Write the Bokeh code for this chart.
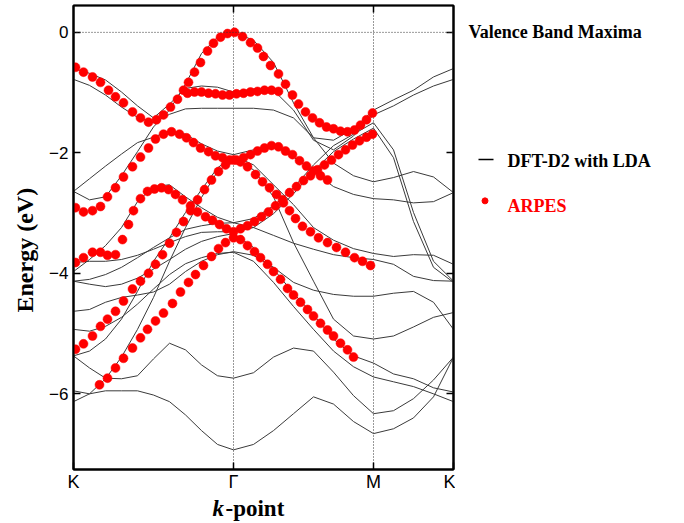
from bokeh.plotting import figure
from bokeh.layouts import column, row
from bokeh.models import Range1d, FixedTicker, LinearAxis, Span, Label, Title
from bokeh.embed import file_html
from bokeh.resources import INLINE

# k-path coordinate (arbitrary units): K = 0, Gamma = 160, M = 300, K = 380
K_PATH_TICKS = [0, 160, 300, 380]
K_PATH_LABELS = ["K", "Γ", "M", "K"]
ENERGY_TICKS = [0, -2, -4, -6]

# sampling of the DFT bands along K-Γ-M-K
K_GRID = [0, 16, 32, 48, 64, 80, 96, 112, 128, 144, 160,
          180, 200, 220, 240, 260, 280, 300,
          320, 340, 360, 380]

# DFT-D2 (LDA) band energies in eV on K_GRID
BAND_01 = [-2.64, -2.78, -2.73, -2.38, -1.98, -1.57, -1.29, -0.86, -0.35, -0.08, 0.00,
           -0.13, -0.50, -1.17, -1.75, -1.79, -1.60, -1.29, -1.12, -0.96, -0.74, -0.60]
BAND_02 = [-0.60, -0.68, -0.79, -0.99, -1.22, -1.42, -1.19, -0.93, -0.89, -0.91, -0.99,
           -0.94, -0.96, -1.29, -1.79, -1.95, -1.72, -1.37, -1.22, -1.04, -0.89, -0.78]
BAND_03 = [-0.78, -0.88, -1.04, -1.24, -1.41, -1.50, -1.36, -1.27, -1.26, -1.26, -1.26,
           -1.26, -1.29, -1.42, -1.75, -2.17, -2.38, -2.48, -2.41, -2.31, -2.40, -2.66]
BAND_04 = [-2.64, -2.43, -2.22, -2.02, -1.83, -1.74, -1.64, -1.69, -1.85, -1.97, -2.03,
           -1.95, -1.87, -2.07, -2.31, -2.56, -2.69, -2.76, -2.78, -2.83, -2.81, -2.66]
BAND_05 = [-3.97, -3.77, -3.54, -3.24, -2.81, -2.56, -2.53, -2.73, -2.91, -3.07, -3.16,
           -3.09, -2.88, -2.58, -2.20, -1.88, -1.69, -1.50, -1.95, -2.99, -3.80, -4.13]
BAND_06 = [-3.82, -3.80, -3.80, -3.77, -3.70, -3.60, -3.49, -3.39, -3.32, -3.31, -3.31,
           -3.24, -3.01, -2.68, -2.30, -1.98, -1.77, -1.59, -2.08, -3.14, -3.90, -4.15]
BAND_07 = [-5.37, -5.29, -5.09, -4.76, -4.30, -3.80, -3.41, -2.99, -2.61, -2.25, -2.05,
           -2.20, -2.53, -2.86, -3.24, -3.45, -3.59, -3.67, -3.72, -3.69, -3.70, -3.85]
BAND_08 = [-6.13, -6.00, -5.75, -5.39, -4.93, -4.40, -3.80, -3.24, -2.74, -2.31, -2.12,
           -2.28, -2.73, -3.49, -4.13, -4.76, -5.04, -5.09, -5.04, -4.89, -4.73, -4.65]
BAND_09 = [-4.13, -4.18, -4.22, -4.18, -4.08, -3.93, -3.77, -3.60, -3.47, -3.39, -3.34,
           -3.57, -3.93, -4.33, -4.69, -5.09, -5.37, -5.49, -5.67, -5.75, -5.90, -5.97]
BAND_10 = [-5.37, -5.57, -5.74, -5.75, -5.70, -5.42, -5.16, -5.27, -5.52, -5.70, -5.74,
           -5.65, -5.39, -5.24, -5.29, -5.64, -6.03, -6.33, -6.28, -6.08, -5.77, -5.39]
BAND_11 = [-5.95, -6.00, -5.95, -5.95, -5.95, -6.02, -6.13, -6.35, -6.61, -6.84, -6.93,
           -6.84, -6.61, -6.33, -6.05, -6.17, -6.46, -6.66, -6.58, -6.40, -6.05, -5.39]
BAND_12 = [-4.63, -4.60, -4.48, -4.40, -4.36, -4.31, -4.18, -3.97, -3.80, -3.69, -3.64,
           -3.70, -3.90, -4.15, -4.28, -4.35, -4.38, -4.38, -4.33, -4.30, -4.48, -4.93]
BAND_13 = [-4.93, -4.96, -4.88, -4.73, -4.51, -4.26, -4.02, -3.84, -3.74, -3.67, -3.65,
           -3.80, -4.15, -4.55, -4.93, -5.29, -5.55, -5.72, -5.80, -5.88, -6.00, -6.13]
BAND_14 = [-4.13, -4.10, -4.02, -3.90, -3.74, -3.57, -3.41, -3.27, -3.21, -3.17, -3.16,
           -3.24, -3.37, -3.50, -3.60, -3.69, -3.74, -3.77, -3.85, -4.05, -4.12, -4.13]

DFT_BANDS = [BAND_01, BAND_02, BAND_03, BAND_04, BAND_05, BAND_06, BAND_07,
             BAND_08, BAND_09, BAND_10, BAND_11, BAND_12, BAND_13, BAND_14]

# ARPES band dispersions (k-path coordinate, energy in eV)
ARPES_1_K = [2, 10, 19, 27, 35, 42, 50, 59, 67, 75, 83, 90, 97, 104, 110, 115, 121, 127, 134, 140,
             147, 154, 161, 169, 177, 184, 190, 197, 205, 212, 219, 225, 232, 239, 246, 253, 260,
             267, 274, 281, 287, 293, 299]
ARPES_1_E = [-0.58, -0.66, -0.74, -0.83, -0.96, -1.07, -1.17, -1.32, -1.42, -1.49, -1.45, -1.37,
             -1.24, -1.11, -0.96, -0.83, -0.66, -0.50, -0.31, -0.18, -0.08, -0.02, 0.00, -0.07,
             -0.17, -0.26, -0.40, -0.55, -0.69, -0.86, -1.04, -1.19, -1.32, -1.42, -1.50, -1.57,
             -1.60, -1.64, -1.65, -1.62, -1.54, -1.45, -1.34]

ARPES_2_K = [114, 121, 128, 135, 142, 149, 156, 163, 170, 177, 184, 191, 198, 205]
ARPES_2_E = [-1.01, -0.99, -0.99, -1.01, -1.02, -1.04, -1.04, -1.02, -1.01, -0.99, -0.98,
             -0.96, -0.96, -0.98]

ARPES_3_K = [2, 10, 19, 27, 34, 42, 50, 59, 67, 75, 82, 90, 98, 106, 113, 120, 127, 135, 142,
             149, 156, 163, 170, 177, 184, 191, 198, 205, 212, 219, 226, 233, 240, 247, 254]
ARPES_3_E = [-2.91, -2.98, -2.96, -2.89, -2.73, -2.58, -2.40, -2.23, -2.07, -1.92, -1.77, -1.69,
             -1.65, -1.69, -1.75, -1.83, -1.92, -1.98, -2.05, -2.08, -2.12, -2.12, -2.08, -2.03,
             -1.97, -1.92, -1.88, -1.90, -1.97, -2.03, -2.13, -2.22, -2.30, -2.38, -2.45]

ARPES_4_K = [2, 10, 19, 27, 34, 42, 49, 55, 60, 67, 74, 81, 88, 95, 102, 109, 117, 124, 132,
             139, 146, 153, 160, 167, 174, 181, 188, 195, 202, 209, 216, 223, 230, 237, 244,
             251, 258, 265, 272, 279, 286, 293, 299]
ARPES_4_E = [-3.82, -3.74, -3.65, -3.65, -3.70, -3.69, -3.44, -3.19, -2.96, -2.76, -2.64, -2.60,
             -2.58, -2.61, -2.69, -2.78, -2.88, -2.98, -3.06, -3.12, -3.19, -3.26, -3.31, -3.26,
             -3.21, -3.14, -3.06, -2.98, -2.88, -2.78, -2.66, -2.56, -2.46, -2.38, -2.28, -2.20,
             -2.12, -2.03, -1.95, -1.87, -1.80, -1.74, -1.69]

ARPES_5_K = [2, 10, 19, 27, 34, 42, 50, 59, 67, 75, 82, 89, 96, 103, 110, 117, 124, 131, 138,
             145, 152, 160, 167, 174, 182, 189, 196, 203, 210, 216, 222, 229, 237, 245, 254,
             263, 272, 281, 289, 297]
ARPES_5_E = [-5.26, -5.17, -5.04, -4.88, -4.76, -4.63, -4.46, -4.26, -4.13, -4.00, -3.85, -3.69,
             -3.50, -3.32, -3.14, -2.96, -2.78, -2.61, -2.45, -2.31, -2.20, -2.12, -2.15, -2.23,
             -2.36, -2.48, -2.58, -2.69, -2.83, -2.96, -3.09, -3.22, -3.31, -3.41, -3.49, -3.57,
             -3.65, -3.74, -3.80, -3.87]

ARPES_6_K = [26, 34, 42, 50, 59, 67, 74, 82, 90, 99, 107, 115, 122, 130, 138, 145, 152, 160,
             167, 174, 181, 187, 194, 200, 207, 214, 220, 227, 234, 240, 247, 254, 260, 267,
             274, 280]
ARPES_6_E = [-5.85, -5.74, -5.57, -5.41, -5.24, -5.07, -4.93, -4.79, -4.66, -4.50, -4.31, -4.15,
             -4.02, -3.87, -3.72, -3.59, -3.49, -3.41, -3.44, -3.54, -3.64, -3.74, -3.85, -3.97,
             -4.10, -4.25, -4.36, -4.48, -4.60, -4.71, -4.83, -4.94, -5.04, -5.16, -5.27, -5.39]

ARPES_K = ARPES_1_K + ARPES_2_K + ARPES_3_K + ARPES_4_K + ARPES_5_K + ARPES_6_K
ARPES_E = ARPES_1_E + ARPES_2_E + ARPES_3_E + ARPES_4_E + ARPES_5_E + ARPES_6_E

SERIF = "Liberation Serif"
SANS = "Liberation Sans"
BAND_COLOR = "#3a3a3a"
ARPES_COLOR = "#ff0000"

# ---------------------------------------------------------------- band plot
p = figure(width=455, height=494,
           x_range=Range1d(0, 380), y_range=Range1d(-7.256, 0.446),
           output_backend="svg", toolbar_location=None,
           min_border_left=73, min_border_right=2, min_border_top=5, min_border_bottom=23,
           background_fill_color="white", border_fill_color="white",
           outline_line_color="black", outline_line_width=2)

xa = p.xaxis[0]
xa.ticker = FixedTicker(ticks=K_PATH_TICKS)
xa.major_label_overrides = dict(zip(K_PATH_TICKS, K_PATH_LABELS))
xa.major_label_text_font = SANS
xa.major_label_text_font_size = "18px"
xa.major_label_text_color = "black"
xa.major_label_standoff = 2
xa.major_tick_in = 7
xa.major_tick_out = 0
xa.minor_tick_line_color = None
xa.axis_line_width = 2
xa.major_tick_line_width = 1.5

ya = p.yaxis[0]
ya.ticker = FixedTicker(ticks=ENERGY_TICKS)
ya.major_label_text_font = SANS
ya.major_label_text_font_size = "17px"
ya.major_label_text_color = "black"
ya.major_label_standoff = 5
ya.major_tick_in = 7
ya.major_tick_out = 0
ya.minor_tick_line_color = None
ya.axis_line_width = 2
ya.major_tick_line_width = 1.5

# y-axis title, anchored a little below the frame's middle
p.add_layout(Title(text="Energy (eV)", align="left", offset=157, standoff=17,
                   text_font=SERIF, text_font_style="bold", text_font_size="24px",
                   text_color="black"), "left")

# mirrored ticks on the right and top edges (no labels there)
ra = LinearAxis(ticker=FixedTicker(ticks=ENERGY_TICKS), major_label_text_font_size="1px",
                major_label_text_color=None, major_label_standoff=0,
                major_tick_in=7, major_tick_out=0, minor_tick_line_color=None,
                axis_line_width=2, major_tick_line_width=1.5)
p.add_layout(ra, "right")
ta = LinearAxis(ticker=FixedTicker(ticks=[160, 300]), major_label_text_font_size="1px",
                major_label_text_color=None, major_label_standoff=0,
                major_tick_in=7, major_tick_out=0, minor_tick_line_color=None,
                axis_line_width=1.5, major_tick_line_width=1.5)
p.add_layout(ta, "above")

# dotted guides at Γ, M and the valence band maximum
p.xgrid.ticker = FixedTicker(ticks=[160, 300])
p.xgrid.grid_line_color = "#333333"
p.xgrid.grid_line_dash = "1 2"
p.xgrid.grid_line_width = 1
p.ygrid.visible = False
p.add_layout(Span(location=0, dimension="width", line_color="#333333",
                  line_dash="1 2", line_width=1))

p.multi_line(xs=[K_GRID] * len(DFT_BANDS), ys=DFT_BANDS, line_color=BAND_COLOR, line_width=1.0)
p.scatter(ARPES_K, ARPES_E, size=9, fill_color=ARPES_COLOR, line_color=ARPES_COLOR,
          line_width=0.5)

# ---------------------------------------------------------------- legend panel
side = figure(width=229, height=494, x_range=Range1d(0, 229), y_range=Range1d(494, 0),
              output_backend="svg", toolbar_location=None, x_axis_type=None, y_axis_type=None,
              min_border=0, outline_line_color=None,
              background_fill_color="white", border_fill_color="white")
side.xgrid.visible = False
side.ygrid.visible = False

LEGEND_TEXT_X = 52
KEY_X = [23, 38]
TITLE_ROW_Y = 28
DFT_ROW_Y = 166
ARPES_ROW_Y = 213

side.add_layout(Label(x=13, y=TITLE_ROW_Y, text="Valence Band Maxima", text_font=SERIF,
                      text_font_style="bold", text_font_size="18px", text_color="black",
                      text_baseline="middle", text_align="left"))

# legend key swatches
side.line(x=KEY_X, y=[DFT_ROW_Y - 2, DFT_ROW_Y - 2], line_color="black", line_width=1.5)
side.scatter(x=[sum(KEY_X) / 2 - 1], y=[ARPES_ROW_Y - 5], size=6, fill_color=ARPES_COLOR,
             line_color=ARPES_COLOR)

side.add_layout(Label(x=LEGEND_TEXT_X, y=DFT_ROW_Y, text="DFT-D2 with LDA", text_font=SERIF,
                      text_font_style="bold", text_font_size="18px", text_color="black",
                      text_baseline="middle", text_align="left"))
side.add_layout(Label(x=LEGEND_TEXT_X, y=ARPES_ROW_Y, text="ARPES", text_font=SERIF,
                      text_font_style="bold", text_font_size="18px", text_color=ARPES_COLOR,
                      text_baseline="middle", text_align="left"))

# ---------------------------------------------------------------- x-axis title strip
strip = figure(width=684, height=29, x_range=Range1d(0, 684), y_range=Range1d(29, 0),
               output_backend="svg", toolbar_location=None, x_axis_type=None, y_axis_type=None,
               min_border=0, outline_line_color=None,
               background_fill_color="white", border_fill_color="white")
strip.xgrid.visible = False
strip.ygrid.visible = False
strip.add_layout(Label(x=212, y=14, text="k", text_font=SERIF, text_font_style="bold italic",
                       text_font_size="23px", text_color="black", text_align="left",
                       text_baseline="middle"))
strip.add_layout(Label(x=225, y=14, text="-point", text_font=SERIF, text_font_style="bold",
                       text_font_size="23px", text_color="black", text_align="left",
                       text_baseline="middle"))

layout = column(row(p, side, spacing=0), strip, spacing=0)
open("out.html", "w").write(file_html(layout, INLINE))
